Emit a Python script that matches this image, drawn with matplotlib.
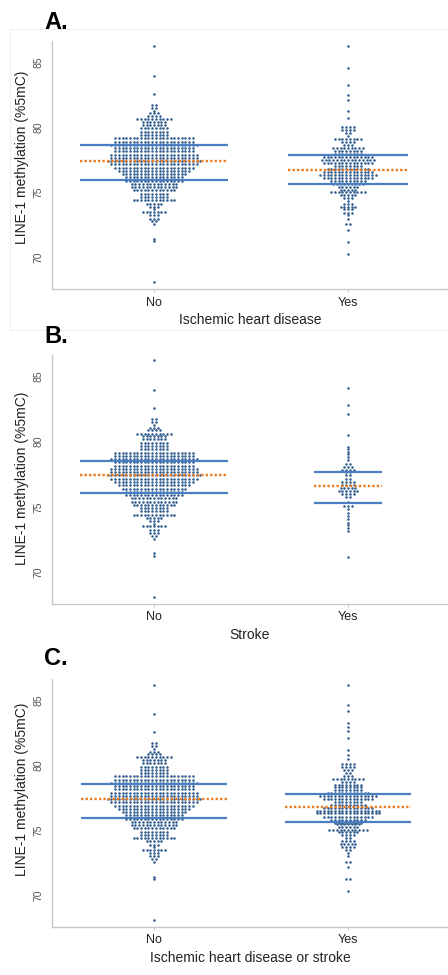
import matplotlib.pyplot as plt
from matplotlib.patches import Rectangle
import numpy as np

plt.rcParams['font.family'] = ['Liberation Sans', 'DejaVu Sans']

# ---- data ----
groups = ['No', 'Yes']
panel_letters = ['A.', 'B.', 'C.']
x_titles = ['Ischemic heart disease', 'Stroke', 'Ischemic heart disease or stroke']
y_title = 'LINE-1 methylation (%5mC)'
y_ticks = [70, 75, 80, 85]

# dot plot rows: value of the row and number of dots in it
no_vals = [86.2, 83.9, 82.55, 81.7, 81.5, 81.25, 81.05, 80.85, 80.6, 80.4, 80.15,
           79.9, 79.65, 79.4, 79.15, 78.9, 78.65, 78.4, 78.15, 77.9, 77.65, 77.4,
           77.15, 76.9, 76.65, 76.4, 76.15, 75.9, 75.65, 75.4, 75.15, 74.9, 74.65,
           74.4, 74.15, 73.9, 73.7, 73.5, 73.25, 73.0, 72.8, 72.55, 71.45, 71.25, 68.1]
no_counts = [1, 1, 1, 2, 2, 1, 3, 4, 10, 7, 7,
             8, 8, 8, 22, 22, 24, 22, 22, 24, 24, 26,
             24, 22, 20, 18, 16, 16, 13, 13, 12, 8, 8,
             12, 5, 3, 1, 7, 3, 3, 2, 1, 1, 1, 1]

ihd_yes_vals = [86.2, 84.55, 83.2, 82.5, 82.1, 81.2, 80.7, 80.0, 79.8, 79.55, 79.3,
                79.1, 78.9, 78.65, 78.4, 78.2, 77.95, 77.7, 77.5, 77.25, 77.0, 76.8,
                76.55, 76.35, 76.1, 75.9, 75.65, 75.4, 75.2, 75.0, 74.8, 74.55, 74.35,
                74.1, 73.9, 73.7, 73.45, 73.25, 73.0, 72.55, 72.1, 71.2, 70.3]
ihd_yes_counts = [1, 1, 1, 1, 1, 1, 1, 4, 4, 2, 1,
                  8, 4, 3, 9, 8, 8, 14, 15, 14, 8, 12,
                  14, 16, 14, 10, 9, 6, 5, 10, 5, 3, 1,
                  3, 5, 3, 3, 1, 1, 2, 1, 1, 1]

stroke_yes_vals = [84.1, 82.8, 82.1, 80.5, 79.6, 79.4, 79.2, 79.0, 78.8, 78.55, 78.3,
                   78.05, 77.85, 77.65, 77.4, 77.1, 76.9, 76.7, 76.45, 76.2, 75.95, 75.75,
                   75.35, 75.05, 74.85, 74.5, 74.3, 74.1, 73.8, 73.6, 73.35, 73.15, 71.2]
stroke_yes_counts = [1, 1, 1, 1, 1, 1, 1, 1, 1, 1, 2,
                     3, 4, 2, 2, 2, 4, 4, 5, 6, 4, 2,
                     1, 3, 1, 1, 1, 1, 1, 1, 1, 1, 1]

either_yes_vals = [86.2, 84.65, 84.15, 83.25, 82.9, 82.6, 82.1, 81.2, 80.8, 80.5, 80.1,
                   79.85, 79.6, 79.4, 79.15, 78.95, 78.75, 78.5, 78.3, 78.1, 77.85, 77.6,
                   77.4, 77.15, 76.95, 76.75, 76.5, 76.3, 76.05, 75.8, 75.6, 75.45, 75.25,
                   75.05, 74.85, 74.65, 74.4, 74.15, 73.95, 73.7, 73.5, 73.25, 73.05, 72.55,
                   72.15, 71.25, 70.35]
either_yes_counts = [1, 1, 1, 1, 1, 1, 1, 1, 1, 1, 4,
                     4, 3, 2, 3, 9, 4, 8, 8, 8, 12, 16,
                     14, 8, 10, 14, 18, 18, 14, 10, 8, 7, 6,
                     11, 6, 4, 2, 4, 5, 4, 2, 1, 1, 2,
                     1, 2, 1]

# mean (dotted) and the solid lines above / below, per panel [No, Yes]
means = [[77.40, 76.70], [77.42, 76.63], [77.42, 76.77]]
upper = [[78.60, 77.90], [78.52, 77.67], [78.57, 77.82]]
lower = [[75.98, 75.65], [76.02, 75.33], [75.95, 75.67]]

panels = [
    [(no_vals, no_counts), (ihd_yes_vals, ihd_yes_counts)],
    [(no_vals, no_counts), (stroke_yes_vals, stroke_yes_counts)],
    [(no_vals, no_counts), (either_yes_vals, either_yes_counts)],
]

# ---- layout / style ----
W, H = 448, 975
DOT = '#2d5b8c'
BLUE = '#4a7fc4'
ORANGE = '#ee7a1e'
GRID = '#c8c8c8'

ax_px = [(41, 289), (355, 603.7), (679.3, 926.7)]   # top, bottom of each axes in px
letter_base = [29.3, 343.3, 665]
ylabel_center = [157.5, 478, 789]
line_half = [[0.38, 0.31], [0.38, 0.177], [0.377, 0.327]]
dx = 0.0191

fig = plt.figure(figsize=(W / 100, H / 100), dpi=100)
fig.add_artist(Rectangle((10 / W, 1 - 330 / H), 438 / W, 301 / H,
                         transform=fig.transFigure, fill=False,
                         edgecolor='#efefef', lw=0.8))


def dot_rows(ax, xc, vals, counts):
    xs, ys = [], []
    for v, n in zip(vals, counts):
        off = (np.arange(n) - (n - 1) / 2) * dx
        xs.extend(xc + off)
        ys.extend([v] * n)
    ax.scatter(xs, ys, s=3.3, color=DOT, linewidths=0, zorder=2)


for i, pdata in enumerate(panels):
    top, bot = ax_px[i]
    ax = fig.add_axes([52 / W, 1 - bot / H, 396 / W, (bot - top) / H])
    for j, (vals, counts) in enumerate(pdata):
        xc = j + 1
        dot_rows(ax, xc, vals, counts)
        hw = line_half[i][j]
        ax.hlines([upper[i][j], lower[i][j]], xc - hw, xc + hw, color=BLUE, lw=1.6, zorder=3)
        ax.hlines(means[i][j], xc - hw, xc + hw, color=ORANGE, lw=1.7,
                  linestyles=[(0, (1, 0.9))], zorder=4)

    ax.set_xlim(0.4742, 2.5155)
    ax.set_ylim(67.6, 86.6)
    ax.set_xticks([1, 2])
    ax.set_xticklabels(groups, fontsize=9, color='#222222')
    ax.set_yticks(y_ticks)
    ax.set_yticklabels([str(t) for t in y_ticks], fontsize=7.5, color='#555555',
                       rotation=90, va='center')
    ax.tick_params(axis='y', length=0, pad=6)
    ax.tick_params(axis='x', length=2.5, width=0.8, color=GRID, pad=3)
    for s in ['top', 'right']:
        ax.spines[s].set_visible(False)
    for s in ['left', 'bottom']:
        ax.spines[s].set_color(GRID)
        ax.spines[s].set_linewidth(1.0)
    ax.set_xlabel(x_titles[i], fontsize=10, color='#222222', labelpad=3)

    fig.text(22 / W, 1 - ylabel_center[i] / H, y_title, rotation=90,
             fontsize=10, color='#222222', ha='center', va='center')
    fig.text(44 / W, 1 - letter_base[i] / H, panel_letters[i],
             fontsize=17, fontweight='bold', va='baseline', ha='left')

fig.savefig('out.png', dpi=100)
